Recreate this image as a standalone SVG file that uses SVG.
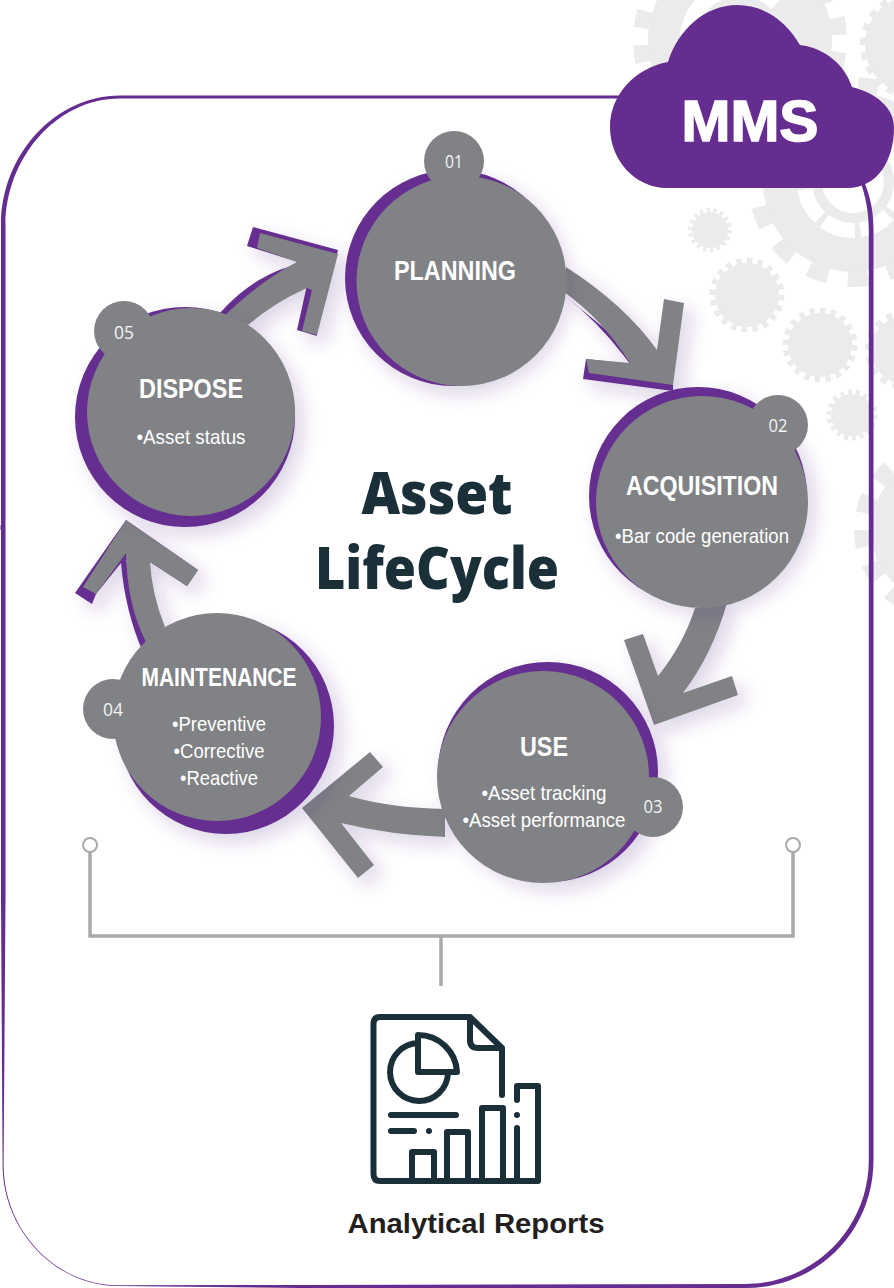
<svg xmlns="http://www.w3.org/2000/svg" width="894" height="1288" viewBox="0 0 894 1288">
<defs>
<filter id="sh" x="-30%" y="-30%" width="170%" height="170%"><feDropShadow dx="8" dy="8" stdDeviation="9" flood-color="#4b2e83" flood-opacity=".2"/></filter>
</defs>
<style>
.g{fill:#ebebec}.gt{fill:none;stroke:#ebebec}
.p{fill:#652d90}.k{fill:#808285}
.h{font:bold 27px "Liberation Sans",Arial,sans-serif;fill:#fff;text-anchor:middle}
.b{font:21px "Liberation Sans",Arial,sans-serif;fill:#fff;text-anchor:middle}
.n{font:18px "Open Sans","Noto Sans",sans-serif;fill:#f4f4f5;text-anchor:middle}
.t{font:800 58px "Open Sans","Noto Sans",sans-serif;fill:#1a2f38;text-anchor:middle}
.i{fill:none;stroke:#1a2f38;stroke-width:6;stroke-linecap:round;stroke-linejoin:round}
.c{fill:none;stroke:#a7a9ac;stroke-width:3.500}
</style>
<rect width="894" height="1288" fill="#fff"/>
<g id="gears">
<circle class="g" cx="740" cy="40" r="92"/><circle class="gt" cx="740" cy="40" r="99" stroke-width="16" pathLength="36" stroke-dasharray="1 1" transform="rotate(7 740 40)"/>
<circle cx="740" cy="40" r="52" fill="none" stroke="#fff" stroke-width="16" pathLength="8" stroke-dasharray="7 1"/>
<circle class="g" cx="853" cy="182" r="90"/><circle class="gt" cx="853" cy="182" r="97" stroke-width="16" pathLength="30" stroke-dasharray="1 1" transform="rotate(9 853 182)"/>
<circle cx="853" cy="182" r="48.500" fill="none" stroke="#fff" stroke-width="15" pathLength="8" stroke-dasharray=".85 .15" transform="rotate(-2 853 182)"/>
<circle cx="853" cy="182" r="31" fill="#fff"/>
<circle class="g" cx="915" cy="45" r="50"/><circle class="gt" cx="915" cy="45" r="51" stroke-width="8" pathLength="44" stroke-dasharray="1 1"/>
<circle class="g" cx="905" cy="350" r="34"/><circle class="gt" cx="905" cy="350" r="36" stroke-width="8" pathLength="36" stroke-dasharray="1 1"/>
<circle class="g" cx="945" cy="530" r="74"/><circle class="gt" cx="945" cy="530" r="82" stroke-width="18" pathLength="30" stroke-dasharray="1 1"/>
<circle class="g" cx="710" cy="230" r="18"/><circle class="gt" cx="710" cy="230" r="20" stroke-width="4" pathLength="36" stroke-dasharray="1 1"/>
<circle class="g" cx="747" cy="295" r="32"/><circle class="gt" cx="747" cy="295" r="34" stroke-width="7" pathLength="40" stroke-dasharray="1 1"/>
<circle class="g" cx="820" cy="345" r="32"/><circle class="gt" cx="820" cy="345" r="34" stroke-width="7" pathLength="40" stroke-dasharray="1 1"/>
<circle class="g" cx="852" cy="415" r="21"/><circle class="gt" cx="852" cy="415" r="23" stroke-width="5" pathLength="36" stroke-dasharray="1 1"/>
<rect x="0" y="525" width="3" height="5" fill="#a7a9ac"/>
</g>
<g id="connectors">
<path id="frame" class="p" d="M120 95.500H640V98.500H120C55 98.500 5.500 160 5.500 225V900L3.600 1165C3.600 1230 55 1285 118 1285.300L300 1285L745 1284C812 1284 868.800 1230 868.800 1160V230C868.800 210 865 195 860 180L863 179C870 195 873.500 210 873.500 230V1160C873.500 1232 817 1288 745 1288H300L118 1286C55 1286 2.600 1230 2.600 1165L1 900V225C1 155 55 95.500 120 95.500Z"/>
<g id="a51" filter="url(#sh)">
<path class="p" d="M253 227L338 250L334 266L304 263Q256 272 220 313L226 316Q262 285 298 262L247 246ZM307 285L312 290L317 336L297 330Z"/>
<path class="k" d="M260 233L338 254L317 335L302 331L312 290L307 288Q275 302 248 325L225 315Q262 280 297 262L257 248Z"/>
</g>
<g id="a12" filter="url(#sh)">
<path class="p" d="M564 295Q598 322 624 356L630 364L586 359L583 379L673 391V385Z"/>
<path class="k" d="M664 299L684 303L673 385L589 373L586 359L630 363Q603 320 564 292L566 267Q625 305 657 350Z"/>
</g>
<g id="a23" filter="url(#sh)">
<path class="k" d="M624 640L643 634L658 676Q683 645 695 608L727 603Q712 655 683 693L732 676L738 695L654 725Z"/>
</g>
<g id="a34" filter="url(#sh)">
<path class="k" d="M370 752L383 767L349 796Q390 808 445 809V837Q390 835 341 823L374 865L358 878L302 808Z"/>
</g>
<g id="a45" filter="url(#sh)">
<path class="p" d="M126 520L75 593L92 604L96 594L121 563Q125 610 142 650L150 640L126 560L150 562L187 586L198 570Z"/>
<path class="k" d="M126 520L83 587L96 594L126 553Q127 605 146 642L165 627Q152 595 150 562L187 586L198 570Z"/>
</g>
<g id="bracket">
<path class="c" d="M90 852V936H793V852M441 936V986"/>
<circle cx="90" cy="845" r="7" fill="#fff" stroke="#a7a9ac" stroke-width="2"/>
<circle cx="793" cy="845" r="7" fill="#fff" stroke="#a7a9ac" stroke-width="2"/>
</g>
</g>
<g id="node-planning">
<circle class="p" cx="453" cy="278" r="108" filter="url(#sh)"/><circle class="k" cx="461.500" cy="281" r="105"/><circle class="k" cx="454" cy="161" r="30"/>
<text class="n" x="454" y="168" textLength="18" lengthAdjust="spacingAndGlyphs">01</text>
<text class="h" x="455" y="280" textLength="122" lengthAdjust="spacingAndGlyphs">PLANNING</text>
</g>
<g id="node-acquisition">
<circle class="p" cx="698" cy="496" r="109" filter="url(#sh)"/><circle class="k" cx="702" cy="502" r="106"/><circle class="k" cx="778" cy="425" r="30"/>
<text class="n" x="778" y="432" textLength="19" lengthAdjust="spacingAndGlyphs">02</text>
<text class="h" x="702" y="495" textLength="152" lengthAdjust="spacingAndGlyphs">ACQUISITION</text>
<text class="b" x="702" y="543" textLength="174" lengthAdjust="spacingAndGlyphs">•Bar code generation</text>
</g>
<g id="node-use">
<circle class="p" cx="548" cy="772" r="110" filter="url(#sh)"/><circle class="k" cx="543" cy="777" r="106"/><circle class="k" cx="653" cy="807" r="30"/>
<text class="n" x="653" y="813" textLength="19" lengthAdjust="spacingAndGlyphs">03</text>
<text class="h" x="544" y="756" textLength="48" lengthAdjust="spacingAndGlyphs">USE</text>
<text class="b" x="544" y="800" textLength="125" lengthAdjust="spacingAndGlyphs">•Asset tracking</text>
<text class="b" x="544" y="827" textLength="163" lengthAdjust="spacingAndGlyphs">•Asset performance</text>
</g>
<g id="node-maintenance">
<circle class="p" cx="226" cy="726" r="108" filter="url(#sh)"/><circle class="k" cx="217" cy="717" r="104"/><circle class="k" cx="113" cy="709" r="30"/>
<text class="n" x="113" y="716" textLength="20" lengthAdjust="spacingAndGlyphs">04</text>
<text class="h" style="font-size:25px" x="219" y="686" textLength="155" lengthAdjust="spacingAndGlyphs">MAINTENANCE</text>
<text class="b" x="219" y="731" textLength="94" lengthAdjust="spacingAndGlyphs">•Preventive</text>
<text class="b" x="219" y="758" textLength="91" lengthAdjust="spacingAndGlyphs">•Corrective</text>
<text class="b" x="219" y="785" textLength="78" lengthAdjust="spacingAndGlyphs">•Reactive</text>
</g>
<g id="node-dispose">
<circle class="p" cx="185" cy="417" r="110" filter="url(#sh)"/><circle class="k" cx="191" cy="412" r="104"/><circle class="k" cx="124" cy="331" r="30"/>
<text class="n" x="124" y="339" textLength="20" lengthAdjust="spacingAndGlyphs">05</text>
<text class="h" x="191" y="398" textLength="104" lengthAdjust="spacingAndGlyphs">DISPOSE</text>
<text class="b" x="191" y="444" textLength="109" lengthAdjust="spacingAndGlyphs">•Asset status</text>
</g>
<g id="title">
<text class="t" x="437" y="514" textLength="151" lengthAdjust="spacingAndGlyphs">Asset</text>
<text class="t" x="437" y="589" textLength="244" lengthAdjust="spacingAndGlyphs">LifeCycle</text>
</g>
<g id="node-mms">
<path class="p" d="M667 188C635 188 610 160 610 127C610 95 635 68 668 62C678 30 705 5 737 5C765 5 787 22 800 45C825 48 845 65 852 87C876 93 894 108 894 127C894 160 878 188 847 188Z"/>
<text x="750" y="141" text-anchor="middle" fill="#fff" stroke="#fff" stroke-width="1.500" font-family="'Liberation Sans',Arial,sans-serif" font-weight="bold" font-size="58" textLength="137" lengthAdjust="spacingAndGlyphs">MMS</text>
</g>
<g id="node-reports">
<path class="i" d="M502 1095V1048L470 1017H380Q373.500 1017 373.500 1024V1174Q373.500 1181 380 1181H538V1086H517V1100M517 1128V1181M503 1181V1108H482V1181M468 1181V1132H447V1181M434 1181V1152H412V1181M470 1017V1040Q470 1048 478 1048H502M391 1115H456M391 1131H414"/>
<path class="i" d="M418 1043A29 29 0 1 0 448 1073M418 1035V1072H457A39 39 0 0 0 418 1035Z"/>
<circle cx="429" cy="1131" r="3" fill="#1a2f38"/><circle cx="517" cy="1115" r="3" fill="#1a2f38"/>
<text x="476" y="1233" text-anchor="middle" fill="#231f20" font-family="'Liberation Sans',Arial,sans-serif" font-weight="bold" font-size="27.500" textLength="257" lengthAdjust="spacingAndGlyphs">Analytical Reports</text>
</g>
</svg>
